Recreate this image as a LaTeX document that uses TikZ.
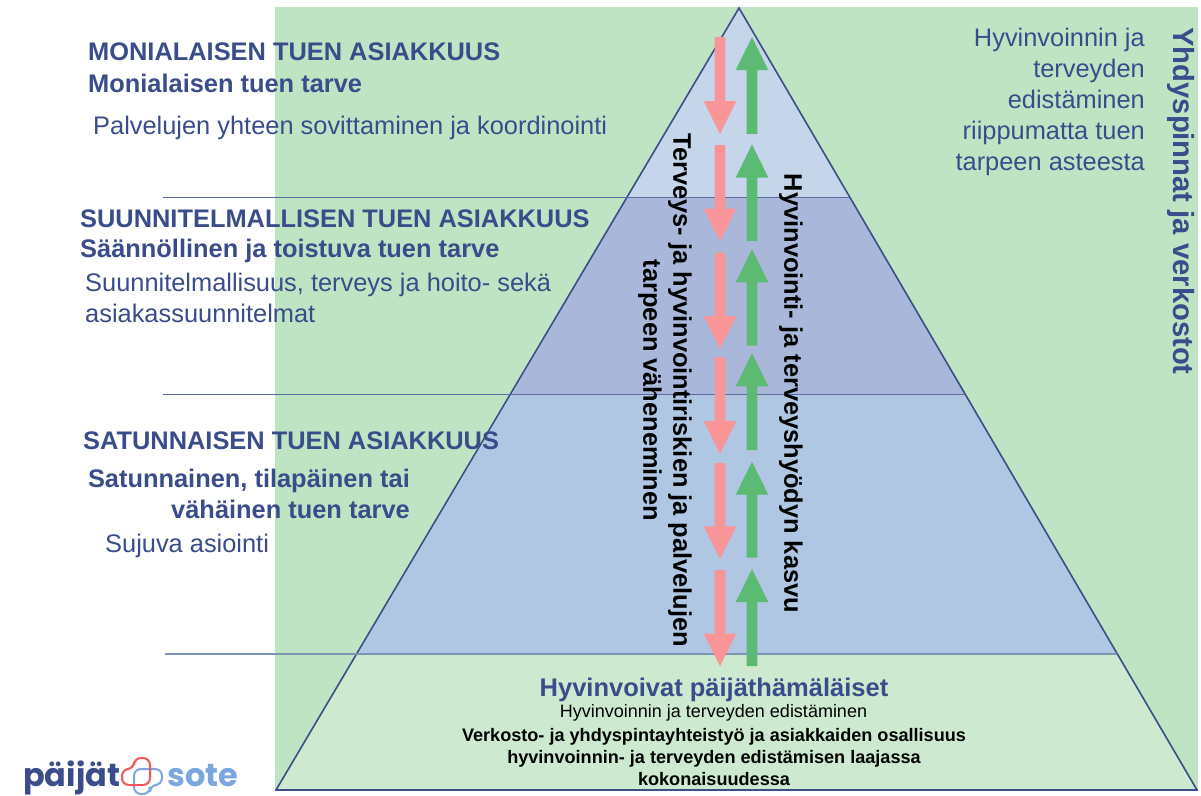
\documentclass[tikz,border=0pt]{standalone}
\usepackage{fontspec}
\setmainfont{Liberation Sans}
\newfontfamily\logofont{Poppins}
\definecolor{bgg}{HTML}{BEE4C4}
\definecolor{lowg}{HTML}{CDE9D0}
\definecolor{topb}{HTML}{C5D5EA}
\definecolor{midb}{HTML}{A9B8DA}
\definecolor{thirdb}{HTML}{B0C7E4}
\definecolor{navy}{HTML}{3A4C8A}
\definecolor{edge}{HTML}{3A4F86}
\definecolor{softedge}{HTML}{5A6CA2}
\definecolor{greyedge}{HTML}{7F93B5}
\definecolor{pinkarrow}{HTML}{F99597}
\definecolor{greenarrow}{HTML}{5CBB73}
\definecolor{logoblue}{HTML}{7BA6DE}
\definecolor{logored}{HTML}{F0565A}
\tikzset{
 head/.style={anchor=west,text=navy,font=\fontsize{25.4}{30}\selectfont\bfseries,inner sep=0pt},
 sub/.style={anchor=west,text=navy,font=\fontsize{25.4}{31}\selectfont\bfseries,inner sep=0pt},
 body/.style={anchor=west,text=navy,font=\fontsize{25.4}{31}\selectfont,inner sep=0pt},
 rotlab/.style={rotate=-90,text=black,font=\fontsize{25.4}{30}\selectfont\bfseries,align=center,inner sep=0pt},
 small/.style={text=black,font=\fontsize{18}{22}\selectfont,inner sep=0pt},
 smallb/.style={text=black,font=\fontsize{18.1}{22}\selectfont\bfseries,align=center,inner sep=0pt},
 rule/.style={draw=softedge,line width=1pt},
}
\newcommand{\downarrowat}[2]{% top, bottom
 \fill[pinkarrow] (714.7,#1) -- (725.3,#1) -- (725.3,#2-33) -- (736.3,#2-33) -- (720,#2) -- (703.7,#2-33) -- (714.7,#2-33) -- cycle;}
\newcommand{\uparrowat}[2]{%
 \fill[greenarrow] (746.7,#2) -- (757.3,#2) -- (757.3,#1+33) -- (768.3,#1+33) -- (752,#1) -- (735.7,#1+33) -- (746.7,#1+33) -- cycle;}
\begin{document}
\begin{tikzpicture}[x=1pt,y=-1pt]
\useasboundingbox (0,0) rectangle (1201,795);
\fill[white] (0,0) rectangle (1201,795);
\fill[bgg] (275,7) rectangle (1198,790);
% pyramid bands
\fill[topb] (739,8) -- (849,197) -- (627,197) -- cycle;
\fill[midb] (627,197) -- (849,197) -- (965,394) -- (512,394) -- cycle;
\fill[thirdb] (512,394) -- (965,394) -- (1117,655) -- (357,655) -- cycle;
\fill[lowg] (357,655) -- (1117,655) -- (1197,790) -- (276,790) -- cycle;
\coordinate (apex) at (739,8);
\coordinate (bl) at (276,790);
\coordinate (br) at (1197,790);
\draw[edge,line width=1.6pt,line join=miter] (bl) -- (apex) -- (br) -- cycle;
\coordinate (r1a) at (163,197); \coordinate (r1b) at (849,197);
\coordinate (r2a) at (163,394); \coordinate (r2b) at (965,394);
\coordinate (r3a) at (165,654); \coordinate (r3b) at (1117,654);
\draw[rule] (r1a) -- (r1b);
\draw[rule] (r2a) -- (r2b);
\draw[rule,draw=greyedge,line width=1.6pt] (r3a) -- (r3b);
% arrows
\downarrowat{37}{134}\downarrowat{145}{241.5}\downarrowat{252.7}{349}\downarrowat{357.3}{454}\downarrowat{463}{559.3}\downarrowat{570}{666.5}
\uparrowat{37}{134}\uparrowat{144.5}{241}\uparrowat{249.3}{345.7}\uparrowat{353.3}{450}\uparrowat{461.7}{557.7}\uparrowat{569}{666}
% left text
\node[head] (t1) at (88,52) {MONIALAISEN TUEN ASIAKKUUS};
\node[sub] (t2) at (88,83) {Monialaisen tuen tarve};
\node[body] (t3) at (93,128) {Palvelujen yhteen sovittaminen ja koordinointi};
\node[head] (t4) at (80,219) {SUUNNITELMALLISEN TUEN ASIAKKUUS};
\node[sub] (t5) at (80,251) {Säännöllinen ja toistuva tuen tarve};
\node[body,align=left] (t6) at (85,298) {Suunnitelmallisuus, terveys ja hoito- sekä\\asiakassuunnitelmat};
\node[head] (t7) at (83,441) {SATUNNAISEN TUEN ASIAKKUUS};
\node[sub,anchor=east,align=right] (t8) at (410,494) {Satunnainen, tilapäinen tai\\vähäinen tuen tarve};
\node[body] (t9) at (105,546) {Sujuva asiointi};
% right text
\node[body,anchor=east,align=right] (t10) at (1145,101.5) {Hyvinvoinnin ja\\terveyden\\edistäminen\\riippumatta tuen\\tarpeen asteesta};
\node[rotate=-90,text=navy,font=\fontsize{29.2}{34}\selectfont\bfseries,inner sep=0pt] (t11) at (1181,201) {Yhdyspinnat ja verkostot};
% rotated labels
\node[rotlab] (t12) at (665,390.5) {Terveys- ja hyvinvointiriskien ja palvelujen\\tarpeen väheneminen};
\node[rotlab] (t13) at (791,393.5) {Hyvinvointi- ja terveyshyödyn kasvu};
% bottom text
\node[text=navy,font=\fontsize{25.5}{30}\selectfont\bfseries,inner sep=0pt] (t14) at (714,689.5) {Hyvinvoivat päijäthämäläiset};
\node[small] (t15) at (713.5,713) {Hyvinvoinnin ja terveyden edistäminen};
\node[smallb] (t16) at (714,757) {Verkosto- ja yhdyspintayhteistyö ja asiakkaiden osallisuus\\hyvinvoinnin- ja terveyden edistämisen laajassa\\kokonaisuudessa};
% logo
\node[anchor=base west,inner sep=0pt,text=navy,font=\logofont\fontsize{32}{32}\selectfont\bfseries] (l1) at (23,786) {päijät};
\node[anchor=base west,inner sep=0pt,text=logoblue,font=\logofont\fontsize{32}{32}\selectfont\bfseries] (l2) at (167,786) {sote};
\draw[logoblue,line width=2pt,rounded corners=7pt] (134,769) -- (134,794) -- (150,794) -- (150,785) -- (162,785) -- (162,769) -- cycle;
\draw[logored,line width=2pt,rounded corners=7pt] (150,785) -- (150,758) -- (134,758) -- (134,769) -- (122,769) -- (122,785) -- cycle;
\end{tikzpicture}
\end{document}
